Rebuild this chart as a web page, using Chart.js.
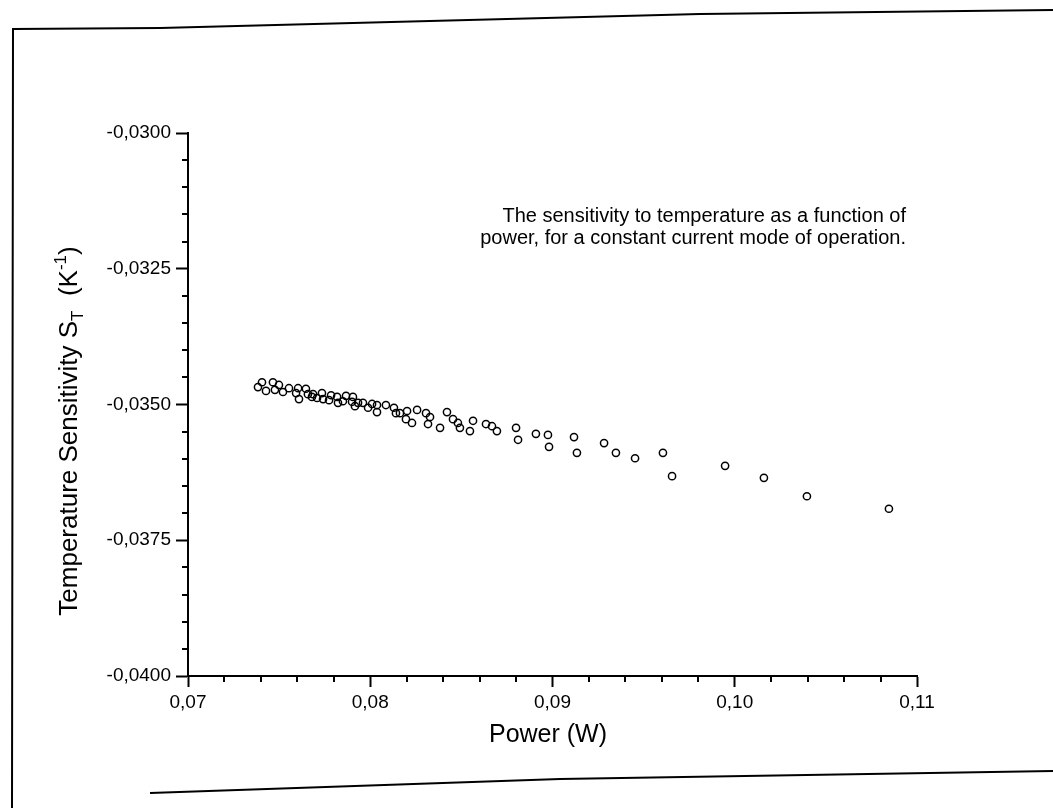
<!DOCTYPE html>
<html lang="en">
<head>
<meta charset="UTF-8">
<title>Temperature Sensitivity vs Power</title>
<script src="https://cdn.jsdelivr.net/npm/chart.js"></script>
<style>
  body { margin: 0; background: #fff; }
  canvas { display: block; }
</style>
</head>
<body>
<canvas id="chart" width="1053" height="808"></canvas>
<script>
// values: power (W) and sensitivity S_T (1/K)
const power = [
  0.07384, 0.07406, 0.07428, 0.07466, 0.07477, 0.07499, 0.07521, 0.07554, 0.07593, 0.07604,
  0.07609, 0.07647, 0.07658, 0.07680, 0.07686, 0.07708, 0.07735, 0.07741, 0.07774, 0.07785,
  0.07818, 0.07823, 0.07850, 0.07867, 0.07900, 0.07905, 0.07916, 0.07933, 0.07960, 0.07988,
  0.08010, 0.08037, 0.08037, 0.08086, 0.08130, 0.08141, 0.08163, 0.08196, 0.08202, 0.08229,
  0.08257, 0.08306, 0.08317, 0.08328, 0.08383, 0.08421, 0.08454, 0.08481, 0.08492, 0.08547,
  0.08564, 0.08635, 0.08668, 0.08695, 0.08800, 0.08811, 0.08909, 0.08975, 0.08981, 0.09118,
  0.09134, 0.09283, 0.09348, 0.09453, 0.09606, 0.09656, 0.09947, 0.10160, 0.10396, 0.10846
];
const sensitivity = [
  -0.03468, -0.03459, -0.03475, -0.03459, -0.03473, -0.03464, -0.03477, -0.03470, -0.03479, -0.03470,
  -0.03490, -0.03471, -0.03481, -0.03486, -0.03481, -0.03488, -0.03479, -0.03490, -0.03492, -0.03483,
  -0.03486, -0.03497, -0.03494, -0.03484, -0.03495, -0.03486, -0.03503, -0.03497, -0.03497, -0.03506,
  -0.03499, -0.03501, -0.03514, -0.03501, -0.03506, -0.03516, -0.03516, -0.03527, -0.03512, -0.03534,
  -0.03510, -0.03516, -0.03536, -0.03523, -0.03543, -0.03514, -0.03527, -0.03534, -0.03543, -0.03549,
  -0.03530, -0.03536, -0.03540, -0.03549, -0.03543, -0.03565, -0.03554, -0.03556, -0.03578, -0.03560,
  -0.03589, -0.03571, -0.03589, -0.03599, -0.03589, -0.03632, -0.03613, -0.03635, -0.03669, -0.03692
];
const xTicks = [0.07, 0.08, 0.09, 0.10, 0.11];
const yTicks = [-0.0400, -0.0375, -0.0350, -0.0325, -0.0300];
const xTitle = 'Power (W)';
const noteLines = [
  'The sensitivity to temperature as a function of',
  'power, for a constant current mode of operation.'
];

const FONT = '"Liberation Sans", Arial, sans-serif';
const comma = (v, d) => v.toFixed(d).replace('.', ',');

// scanned page border (slightly skewed)
const pageFrame = {
  id: 'pageFrame',
  beforeDraw(chart) {
    const ctx = chart.ctx;
    ctx.save();
    ctx.strokeStyle = '#000';
    ctx.lineWidth = 2;
    ctx.beginPath();
    ctx.moveTo(1053, 10);
    ctx.lineTo(700, 14);
    ctx.lineTo(160, 28);
    ctx.lineTo(13, 29);
    ctx.lineTo(12, 808);
    ctx.moveTo(150, 793);
    ctx.lineTo(560, 779);
    ctx.lineTo(1053, 771);
    ctx.stroke();
    ctx.restore();
  }
};

// short minor ticks between the labelled ones
const minorTicks = {
  id: 'minorTicks',
  afterDraw(chart) {
    const { ctx } = chart;
    const xs = chart.scales.x, ys = chart.scales.y;
    ctx.save();
    ctx.strokeStyle = '#000';
    ctx.lineWidth = 2;
    ctx.beginPath();
    for (let i = 1; i < 20; i++) {
      if (i % 5 === 0) continue;
      const px = Math.round(xs.getPixelForValue(xTicks[0] + i * 0.002));
      ctx.moveTo(px, xs.top);
      ctx.lineTo(px, xs.top + 6);
    }
    for (let i = 1; i < 20; i++) {
      if (i % 5 === 0) continue;
      const py = Math.round(ys.getPixelForValue(yTicks[0] + i * 0.0005));
      ctx.moveTo(ys.right, py);
      ctx.lineTo(ys.right - 6, py);
    }
    ctx.stroke();
    ctx.restore();
  }
};

// axis titles (with S_T subscript and K^-1 superscript) and the note
const labels = {
  id: 'labels',
  afterDraw(chart) {
    const { ctx, chartArea } = chart;
    ctx.save();
    ctx.fillStyle = '#000';
    ctx.textBaseline = 'alphabetic';

    ctx.font = `25px ${FONT}`;
    ctx.textAlign = 'center';
    ctx.fillText(xTitle, 548, 742);

    const parts = [
      { t: 'Temperature Sensitivity S', size: 26, dy: 0 },
      { t: 'T', size: 17, dy: 6 },
      { t: '  (K', size: 26, dy: 0 },
      { t: '-1', size: 17, dy: -11 },
      { t: ')', size: 26, dy: 0 }
    ];
    let total = 0;
    parts.forEach(p => { ctx.font = `${p.size}px ${FONT}`; p.w = ctx.measureText(p.t).width; total += p.w; });
    ctx.translate(77, 431);
    ctx.rotate(-Math.PI / 2);
    ctx.textAlign = 'left';
    let x = -total / 2;
    parts.forEach(p => {
      ctx.font = `${p.size}px ${FONT}`;
      ctx.fillText(p.t, x, p.dy);
      x += p.w;
    });
    ctx.setTransform(1, 0, 0, 1, 0, 0);

    ctx.font = `20px ${FONT}`;
    ctx.textAlign = 'right';
    ctx.fillText(noteLines[0], 906, 222);
    ctx.fillText(noteLines[1], 906, 244);
    ctx.restore();
  }
};

new Chart(document.getElementById('chart'), {
  type: 'scatter',
  data: {
    datasets: [{
      data: power.map((p, i) => ({ x: p, y: sensitivity[i] })),
      pointStyle: 'circle',
      pointRadius: 3.6,
      borderWidth: 1.5,
      borderColor: '#000',
      backgroundColor: 'rgba(0,0,0,0)'
    }]
  },
  options: {
    responsive: false,
    animation: false,
    devicePixelRatio: 1,
    layout: { padding: { top: 133, right: 136, left: 0, bottom: 0 } },
    plugins: { legend: { display: false }, tooltip: { enabled: false } },
    scales: {
      x: {
        type: 'linear',
        min: 0.07,
        max: 0.11,
        border: { color: '#000', width: 2 },
        grid: { drawOnChartArea: false, tickLength: 11, tickWidth: 2, tickColor: '#000' },
        afterBuildTicks: s => { s.ticks = xTicks.map(v => ({ value: v })); },
        ticks: {
          color: '#000',
          font: { family: FONT, size: 19 },
          padding: 4,
          maxRotation: 0,
          autoSkip: false,
          callback: v => comma(v, 2)
        },
        afterFit: s => { s.height = 132; }
      },
      y: {
        type: 'linear',
        min: -0.04,
        max: -0.03,
        border: { color: '#000', width: 2 },
        grid: { drawOnChartArea: false, tickLength: 12, tickWidth: 2, tickColor: '#000' },
        afterBuildTicks: s => { s.ticks = yTicks.map(v => ({ value: v })); },
        ticks: {
          color: '#000',
          font: { family: FONT, size: 19 },
          padding: 5,
          autoSkip: false,
          callback: v => comma(v, 4)
        },
        afterFit: s => { s.width = 188; }
      }
    }
  },
  plugins: [pageFrame, minorTicks, labels]
});
</script>
</body>
</html>
